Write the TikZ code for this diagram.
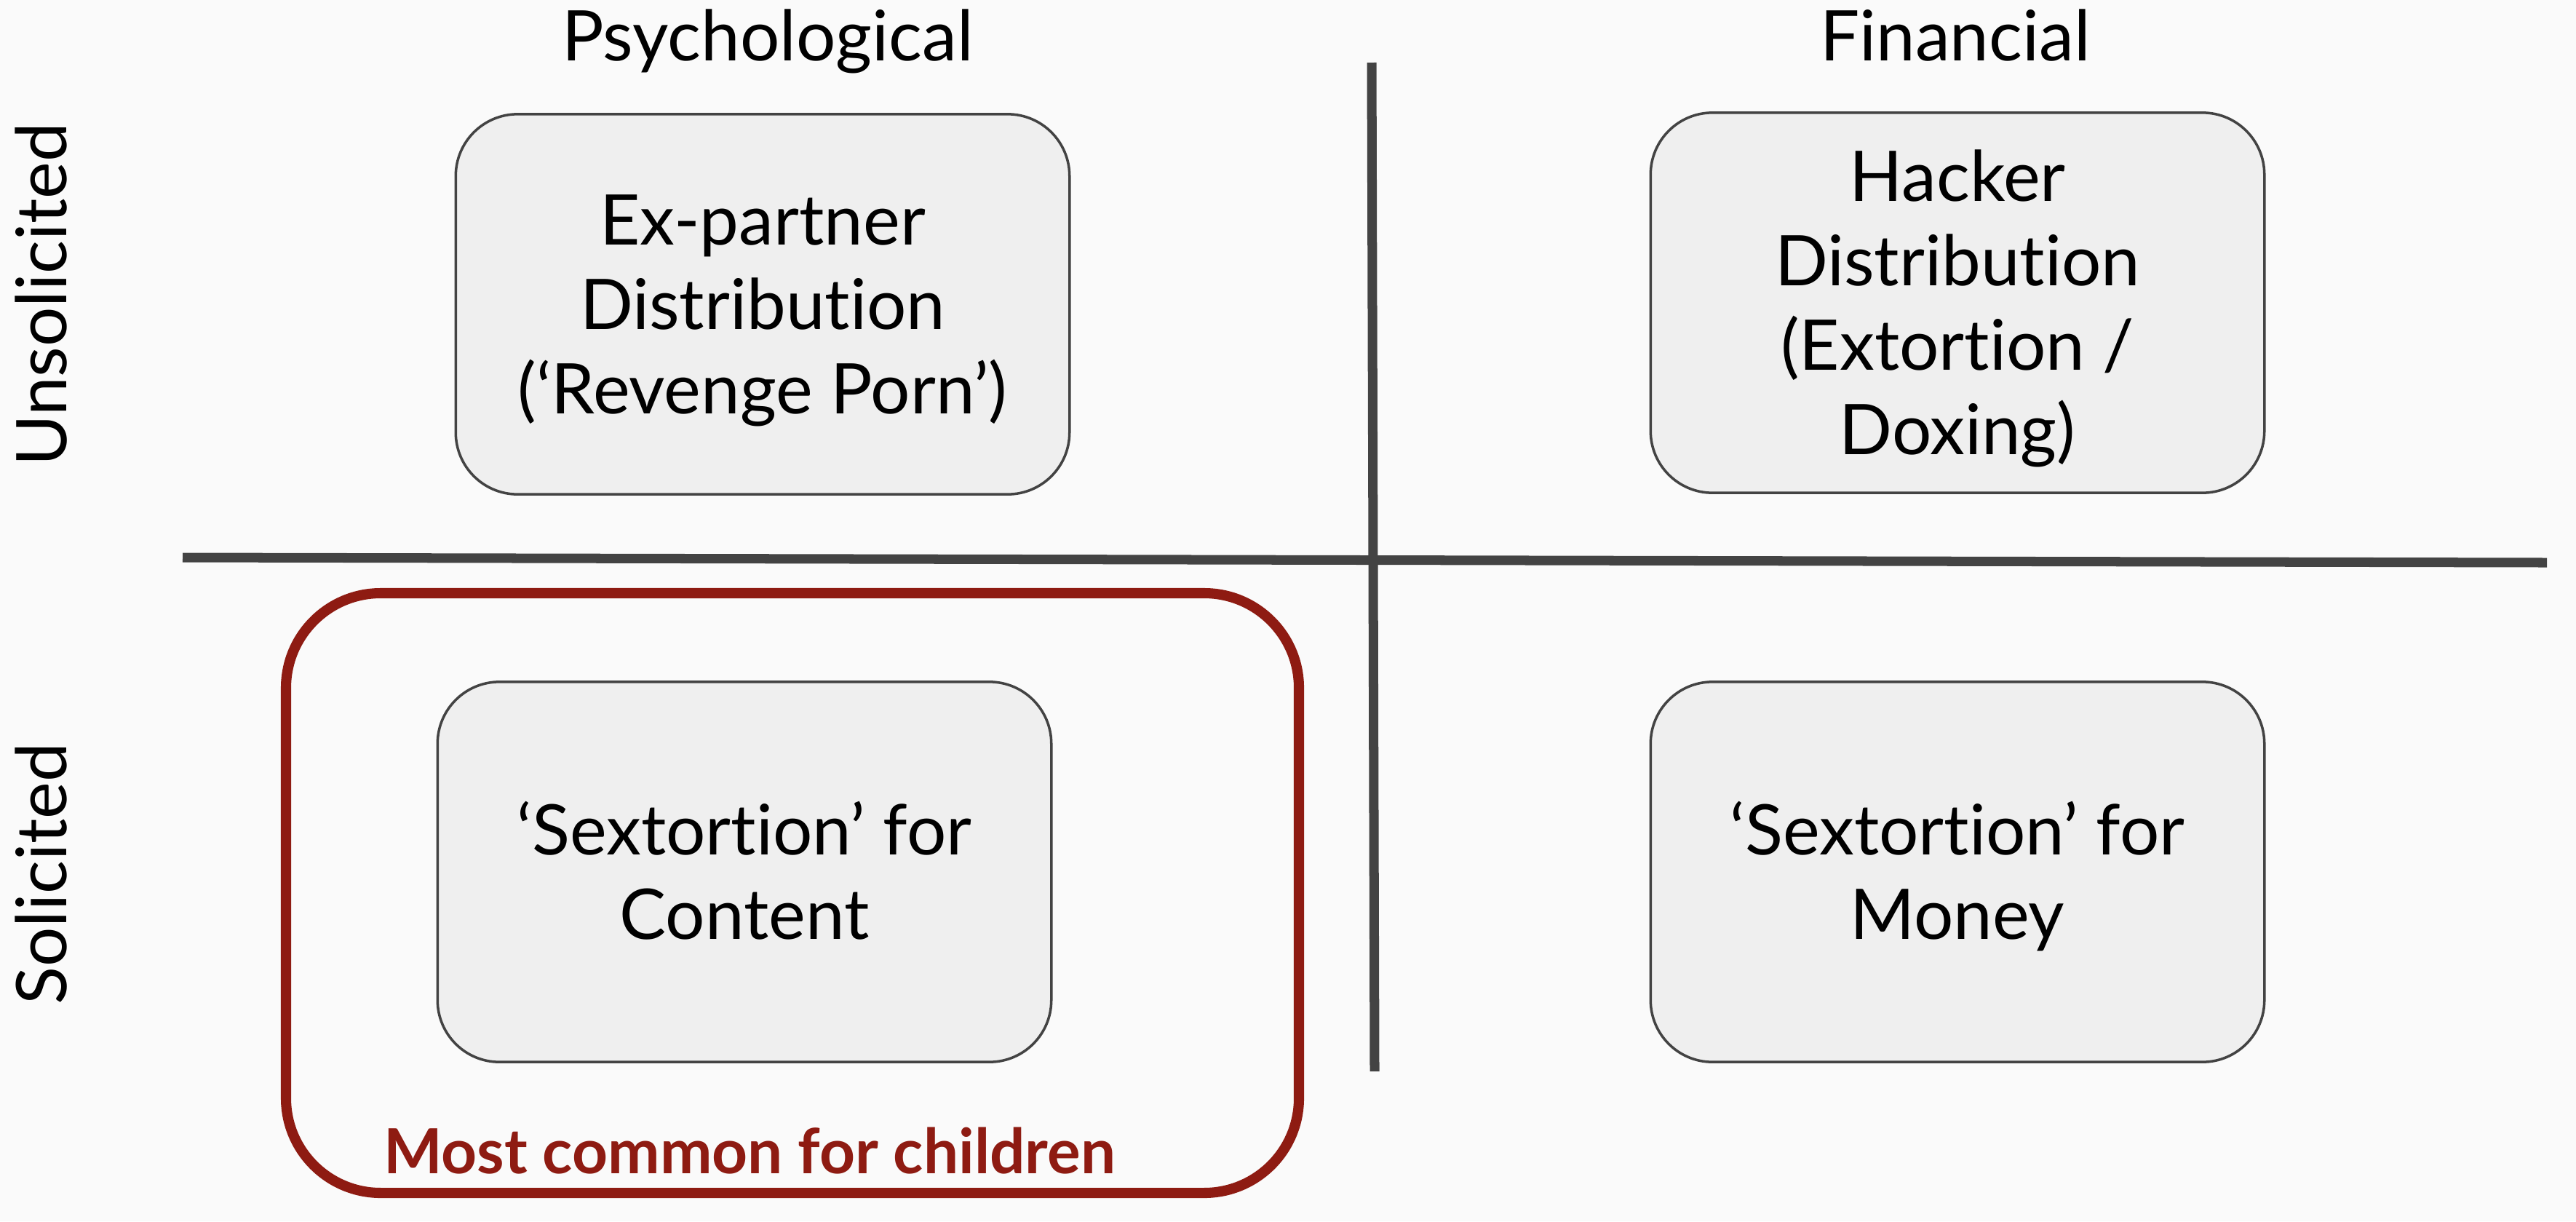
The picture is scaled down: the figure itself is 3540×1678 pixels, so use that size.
\documentclass[tikz,border=0pt]{standalone}
\usepackage{fontspec}
\setmainfont{Lato}[Ligatures={NoCommon}]
\definecolor{bgc}{HTML}{FAFAFA}
\definecolor{boxfill}{HTML}{EFEFEF}
\definecolor{linec}{HTML}{434343}
\definecolor{redc}{HTML}{8E1B12}
\newcommand{\firstln}[1]{\rule{0pt}{19.6pt}\smash{#1}}
\newcommand{\otherln}[1]{\smash{#1}}
\begin{document}
\begin{tikzpicture}[x=0.01cm,y=-0.01cm,
  quad/.style={draw=linec, line width=1pt, fill=boxfill, rounded corners=0.85cm,
    minimum width=8.43cm, minimum height=5.22cm, inner sep=0pt, align=center,
    font=\fontsize{27.3}{33}\selectfont},
  hdr/.style={font=\fontsize{27.3}{33}\selectfont, anchor=base, inner sep=0pt},
  axis/.style={draw=linec, line width=3.7pt},
]
\fill[bgc] (0,0) rectangle (3540,1678);
\useasboundingbox (0,0) rectangle (3540,1678);

% highlight frame
\draw[redc, line width=4pt, rounded corners=1.3cm] (393,815) rectangle (1785,1639);

% axes
\coordinate (hl) at (251,766);
\coordinate (hr) at (3500,773);
\coordinate (vt) at (1885,86);
\coordinate (vb) at (1889,1472);
\draw[axis] (hl) -- (hr);
\draw[axis] (vt) -- (vb);

% headers
\node[hdr] (psy) at (1055,83) {Psychological};
\node[hdr] (fin) at (2687,83) {Financial};
\node[hdr, rotate=90, anchor=base] (uns) at (91,405) {Unsolicited};
\node[hdr, rotate=90, anchor=base] (sol) at (91,1201) {Solicited};

% quadrant boxes
\node[quad] (ex) at (1048,418) {\firstln{Ex-partner}\\\otherln{Distribution}\\\otherln{(‘Revenge Porn’)}};
\node[quad] (hack) at (2690,416) {\firstln{Hacker}\\\otherln{Distribution}\\\otherln{(Extortion /}\\\otherln{Doxing)}};
\node[quad] (cont) at (1023,1198) {\firstln{‘Sextortion’ for}\\\otherln{Content}};
\node[quad] (money) at (2690,1198) {\firstln{‘Sextortion’ for}\\\otherln{Money}};

% label
\node[anchor=base, inner sep=0pt, text=redc, font=\fontsize{24.3}{30}\bfseries\selectfont] (most) at (1030,1612) {Most common for children};
\end{tikzpicture}
\end{document}
